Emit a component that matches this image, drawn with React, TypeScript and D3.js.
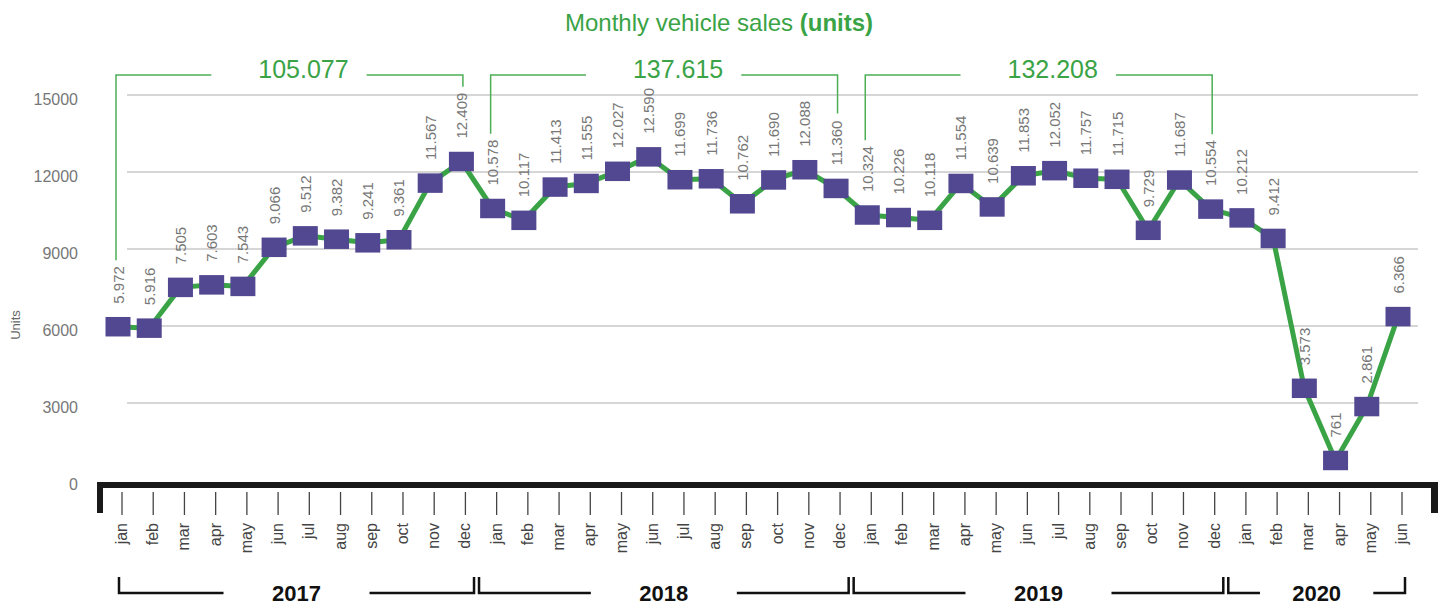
import React from "react";
import * as d3 from "d3";

const years = ["2017", "2018", "2019", "2020"];
const monthNames = ["jan", "feb", "mar", "apr", "may", "jun", "jul", "aug", "sep", "oct", "nov", "dec"];
const sales2017 = [5972, 5916, 7505, 7603, 7543, 9066, 9512, 9382, 9241, 9361, 11567, 12409];
const sales2018 = [10578, 10117, 11413, 11555, 12027, 12590, 11699, 11736, 10762, 11690, 12088, 11360];
const sales2019 = [10324, 10226, 10118, 11554, 10639, 11853, 12052, 11757, 11715, 9729, 11687, 10554];
const sales2020 = [10212, 9412, 3573, 761, 2861, 6366];
const salesByYear = [sales2017, sales2018, sales2019, sales2020];
const yTicks = [0, 3000, 6000, 9000, 12000, 15000];
const titleMain = "Monthly vehicle sales ";
const titleBold = "(units)";
const yAxisTitle = "Units";

const FONT = "'Liberation Sans', Arial, Helvetica, sans-serif";
const GREEN = "#3aa346";
const BRACKET_GREEN = "#4cae55";
const PURPLE = "#524891";

const locale = d3.formatLocale({ decimal: ",", thousands: ".", grouping: [3], currency: ["", ""] });
const fmt = locale.format(",d");

function textWidth(s: string, size: number) {
  let w = 0;
  for (const ch of s) w += ch === "." ? 0.278 : 0.556;
  return w * size;
}

export default function App() {
  const W = 1442;
  const H = 607;

  const points = salesByYear.flatMap((arr, yi) =>
    arr.map((v, mi) => ({ year: years[yi], yi, month: monthNames[mi], mi, value: v }))
  );
  const n = points.length;
  const x = d3.scaleLinear().domain([0, n - 1]).range([118, 1398]);
  const y = d3.scaleLinear().domain([0, 15000]).range([480, 95]);
  const line = d3
    .line<{ value: number }>()
    .x((_, i) => x(i))
    .y((d) => y(d.value));

  const labelFont = 15;
  const labelOffset = 23;
  const labelTop = (i: number) => y(points[i].value) - labelOffset - textWidth(fmt(points[i].value), labelFont);

  // year index ranges
  let acc = 0;
  const groups = salesByYear.map((arr, yi) => {
    const start = acc;
    const end = acc + arr.length - 1;
    acc += arr.length;
    return { year: years[yi], start, end, total: d3.sum(arr), full: arr.length === 12 };
  });

  return (
    <svg width={W} height={H} style={{ position: "absolute", left: 0, top: 0, background: "#fff" }} fontFamily={FONT}>
      {/* title */}
      <text x={719} y={31} textAnchor="middle" fontSize={24} fill={GREEN}>
        <tspan>{titleMain}</tspan>
        <tspan fontWeight="bold">{titleBold}</tspan>
      </text>

      {/* gridlines */}
      {yTicks.filter((t) => t > 0).map((t) => (
        <line key={t} x1={127} x2={1418} y1={y(t)} y2={y(t)} stroke="#c8c8c8" strokeWidth={1.3} />
      ))}
      {/* y tick labels */}
      {yTicks.map((t) => (
        <text key={t} x={78} y={y(t) + 4} dy="0.35em" textAnchor="end" fontSize={16} fill="#777">
          {String(t)}
        </text>
      ))}
      <text transform={`translate(20,325) rotate(-90)`} textAnchor="middle" fontSize={13} fill="#666">
        {yAxisTitle}
      </text>

      {/* top total brackets */}
      {groups.filter((g) => g.full).map((g) => {
        const left = x(g.start) - 2;
        const right = x(g.end) + 1.5;
        const cx = (left + right) / 2 + 14;
        const label = fmt(g.total);
        const tw = textWidth(label, 25);
        const top = 75;
        return (
          <g key={g.year}>
            <path
              d={`M${left},${labelTop(g.start) - 6}V${top}H${cx - tw / 2 - 47}M${cx + tw / 2 + 18},${top}H${right}V${labelTop(g.end) - 6}`}
              fill="none"
              stroke={BRACKET_GREEN}
              strokeWidth={1.5}
            />
            <text x={cx} y={78} textAnchor="middle" fontSize={25} fill={GREEN}>
              {label}
            </text>
          </g>
        );
      })}

      {/* line */}
      <path d={line(points) || ""} fill="none" stroke={GREEN} strokeWidth={5} strokeLinejoin="round" />
      {/* markers */}
      {points.map((p, i) => (
        <rect key={i} x={x(i) - 12.5} y={y(p.value) - 9.75} width={25} height={19.5} fill={PURPLE} />
      ))}
      {/* data labels */}
      {points.map((p, i) => (
        <text
          key={i}
          transform={`translate(${x(i) + 5.5},${y(p.value) - labelOffset}) rotate(-90)`}
          textAnchor="start"
          fontSize={labelFont}
          fill="#777"
        >
          {fmt(p.value)}
        </text>
      ))}

      {/* bottom axis bar */}
      <path d={`M97,513V482H1438V513H1431V488H103V513Z`} fill="#1a1a1a" />
      {points.map((p, i) => (
        <g key={i}>
          <line x1={x(i) + 4} x2={x(i) + 4} y1={492} y2={515} stroke="#444" strokeWidth={1.3} />
          <text
            transform={`translate(${x(i) + 9},523) rotate(-90)`}
            textAnchor="end"
            fontSize={16}
            fill="#444"
          >
            {p.month}
          </text>
        </g>
      ))}

      {/* year brackets */}
      {groups.map((g, k) => {
        const left = k === 0 ? x(g.start) + 1 : (x(g.start - 1) + x(g.start)) / 2 + 2;
        const right = k === groups.length - 1 ? x(g.end) + 7 : (x(g.end) + x(g.end + 1)) / 2 - 3;
        const cx = (left + right) / 2;
        const tw = 50;
        const halfFree = (right - left - tw) / 2;
        const gap = Math.min(48, halfFree * 0.5);
        return (
          <g key={g.year}>
            <path
              d={`M${left},577V593H${cx - tw / 2 - gap}M${cx + tw / 2 + gap},593H${right}V577`}
              fill="none"
              stroke="#111"
              strokeWidth={2.5}
            />
            <text x={cx} y={601} textAnchor="middle" fontSize={22} fontWeight="bold" fill="#111">
              {g.year}
            </text>
          </g>
        );
      })}
    </svg>
  );
}
